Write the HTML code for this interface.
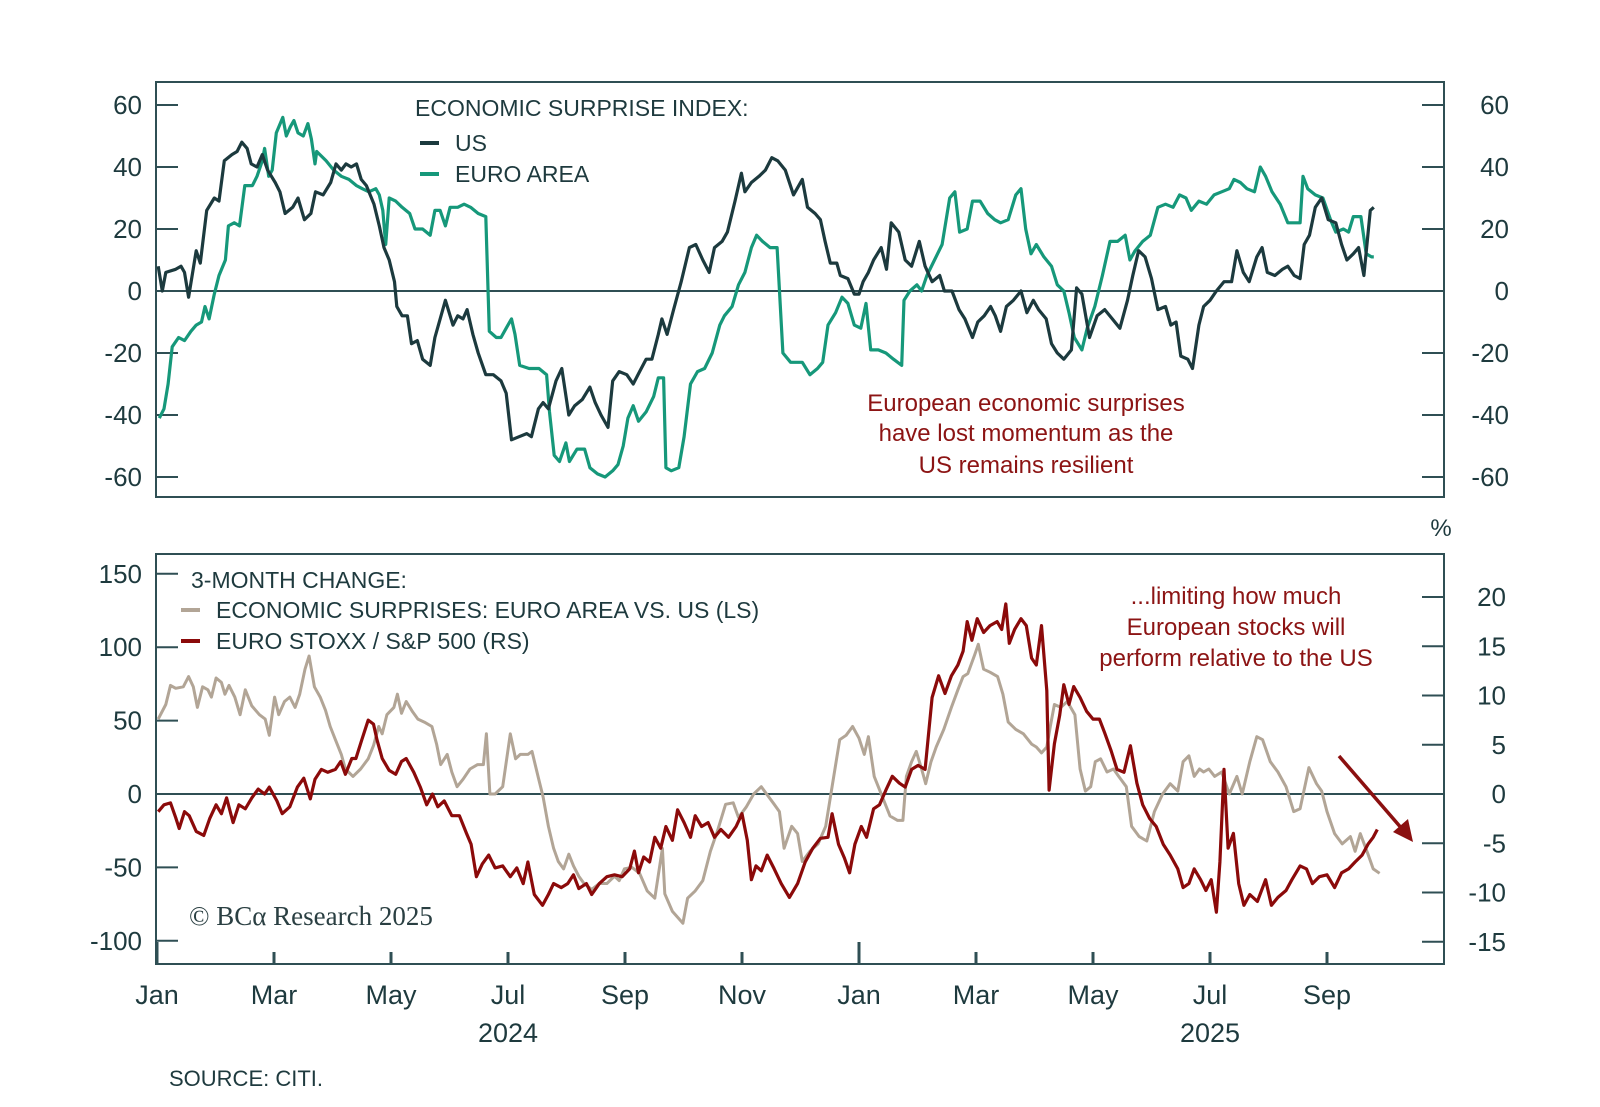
<!DOCTYPE html>
<html><head><meta charset="utf-8">
<style>
html,body{margin:0;padding:0;background:#fff;}
svg{display:block;font-family:"Liberation Sans",sans-serif;}
</style></head>
<body>
<svg id="chart" width="1600" height="1107" viewBox="0 0 1600 1107" xmlns="http://www.w3.org/2000/svg">
<rect width="1600" height="1107" fill="#fff"/>
<g id="topPanel"></g>
<g id="botPanel"></g>
<g fill="#1e3a3e" font-size="23">
<text x="415" y="116">ECONOMIC SURPRISE INDEX:</text>
<line x1="420" y1="143" x2="439" y2="143" stroke="#1c3a3e" stroke-width="4"/>
<text x="455" y="151">US</text>
<line x1="420" y1="174" x2="439" y2="174" stroke="#16987a" stroke-width="4"/>
<text x="455" y="182">EURO AREA</text>
</g>
<g fill="#8c1414" font-size="24" text-anchor="middle">
<text x="1026" y="411">European economic surprises</text>
<text x="1026" y="441">have lost momentum as the</text>
<text x="1026" y="473">US remains resilient</text>
</g>
<text x="1441" y="536" font-size="24" fill="#1e3a3e" text-anchor="middle">%</text>
<g fill="#1e3a3e" font-size="23">
<text x="191" y="588">3-MONTH CHANGE:</text>
<line x1="181" y1="610" x2="200" y2="610" stroke="#b2a596" stroke-width="4"/>
<text x="216" y="618">ECONOMIC SURPRISES: EURO AREA VS. US (LS)</text>
<line x1="181" y1="641" x2="200" y2="641" stroke="#8b0a0a" stroke-width="4"/>
<text x="216" y="649">EURO STOXX / S&amp;P 500 (RS)</text>
</g>
<g fill="#8c1414" font-size="24" text-anchor="middle">
<text x="1236" y="604">...limiting how much</text>
<text x="1236" y="635">European stocks will</text>
<text x="1236" y="666">perform relative to the US</text>
</g>
<g>
<line x1="1339" y1="756" x2="1403" y2="830" stroke="#8b1010" stroke-width="3.5"/>
<polygon points="1413,842 1393,832 1408,819" fill="#8b1010"/>
</g>
<text x="189" y="925" font-family="Liberation Serif,serif" font-size="27" fill="#2a3f42">© BCα Research 2025</text>
<text x="169" y="1086" font-size="22" fill="#1e3a3e">SOURCE: CITI.</text>
</svg>
<script>
const usM=[0.02,0.09,0.15,0.32,0.41,0.47,0.54,0.67,0.74,0.85,0.98,1.06,1.15,1.28,1.37,1.45,1.54,1.61,1.71,1.80,1.89,2.02,2.10,2.19,2.32,2.41,2.52,2.63,2.71,2.84,2.97,3.06,3.15,3.23,3.32,3.41,3.49,3.58,3.71,3.80,3.88,3.97,4.06,4.10,4.19,4.28,4.35,4.45,4.54,4.67,4.75,4.93,5.06,5.14,5.23,5.30,5.40,5.49,5.62,5.75,5.88,5.97,6.06,6.19,6.32,6.40,6.52,6.60,6.69,6.82,6.92,7.04,7.14,7.27,7.40,7.49,7.59,7.71,7.79,7.90,8.03,8.14,8.25,8.36,8.46,8.57,8.63,8.72,8.83,8.96,9.10,9.21,9.33,9.44,9.53,9.66,9.75,9.88,9.99,10.05,10.16,10.29,10.40,10.51,10.61,10.74,10.88,11.03,11.12,11.25,11.34,11.42,11.51,11.62,11.68,11.81,11.92,12.00,12.07,12.16,12.25,12.38,12.47,12.55,12.68,12.79,12.90,13.03,13.13,13.25,13.38,13.46,13.59,13.71,13.81,13.94,14.03,14.14,14.25,14.33,14.42,14.52,14.64,14.77,14.87,14.98,15.07,15.20,15.29,15.39,15.50,15.63,15.72,15.81,15.94,16.07,16.20,16.33,16.46,16.59,16.68,16.78,16.89,17.00,17.11,17.24,17.33,17.42,17.50,17.62,17.70,17.81,17.89,18.00,18.11,18.24,18.37,18.46,18.57,18.67,18.80,18.89,18.98,19.11,19.24,19.33,19.44,19.54,19.61,19.70,19.80,19.91,20.02,20.15,20.25,20.34,20.45,20.54,20.63,20.74,20.80];
const usV=[8,0,6,7,8,6,-2,13,9,26,30,29,42,44,45,48,46,41,40,44,39,35,32,25,27,30,23,25,32,31,35,41,39,41,40,41,36,34,28,21,14,10,3,-5,-8,-8,-17,-16,-22,-24,-15,-3,-11,-8,-9,-6,-14,-20,-27,-27,-29,-33,-48,-47,-46,-47,-38,-36,-38,-29,-25,-40,-37,-35,-31,-36,-40,-44,-29,-26,-27,-30,-26,-22,-22,-14,-9,-14,-6,3,14,15,10,6,14,16,19,29,38,32,35,37,39,43,42,39,31,36,27,25,23,16,9,9,5,4,-1,-1,3,6,10,14,7,22,19,10,8,16,8,3,5,0,0,-6,-9,-15,-10,-8,-5,-8,-13,-5,-3,0,-7,-3,-6,-9,-17,-20,-22,-19,1,-1,-15,-8,-6,-9,-12,-3,5,13,11,4,-6,-5,-11,-10,-21,-22,-25,-11,-5,-3,0,3,3,13,6,3,11,14,6,5,7,8,5,4,15,18,27,30,23,22,15,10,12,14,5,26,27];
const euM=[0.04,0.12,0.19,0.26,0.37,0.47,0.58,0.67,0.76,0.82,0.89,0.98,1.06,1.17,1.22,1.32,1.41,1.50,1.63,1.71,1.80,1.84,1.91,1.97,2.04,2.15,2.21,2.28,2.34,2.41,2.50,2.58,2.64,2.70,2.73,2.89,3.02,3.15,3.28,3.41,3.51,3.62,3.74,3.80,3.86,3.91,3.97,4.08,4.19,4.32,4.41,4.54,4.67,4.75,4.84,4.93,5.01,5.14,5.25,5.36,5.49,5.62,5.68,5.80,5.88,5.97,6.06,6.12,6.20,6.36,6.53,6.66,6.71,6.79,6.88,6.99,7.05,7.18,7.31,7.40,7.53,7.66,7.79,7.88,7.97,8.05,8.14,8.23,8.36,8.49,8.57,8.66,8.70,8.79,8.92,9.01,9.12,9.24,9.36,9.49,9.62,9.70,9.83,9.94,10.05,10.16,10.25,10.35,10.48,10.60,10.70,10.83,11.03,11.16,11.29,11.38,11.47,11.60,11.71,11.81,11.92,12.03,12.12,12.20,12.33,12.46,12.59,12.73,12.77,12.87,12.99,13.07,13.16,13.29,13.42,13.55,13.64,13.72,13.85,13.94,14.07,14.20,14.32,14.42,14.55,14.68,14.77,14.85,14.94,15.03,15.16,15.29,15.39,15.50,15.59,15.68,15.81,15.90,16.03,16.16,16.29,16.42,16.55,16.63,16.72,16.85,16.98,17.11,17.24,17.37,17.48,17.59,17.68,17.81,17.94,18.07,18.20,18.33,18.41,18.52,18.63,18.76,18.86,18.95,19.06,19.20,19.33,19.46,19.54,19.59,19.67,19.80,19.93,20.06,20.15,20.28,20.37,20.45,20.58,20.67,20.76,20.80];
const euV=[-41,-38,-30,-18,-15,-16,-13,-11,-10,-5,-9,-1,5,10,21,22,21,34,34,37,42,46,37,39,51,56,50,53,55,51,50,54,49,41,45,42,39,37,36,34,33,32,33,31,26,15,30,29,27,25,20,20,18,26,26,21,27,27,28,27,25,24,-13,-15,-15,-12,-9,-14,-24,-25,-25,-27,-39,-53,-55,-49,-55,-51,-51,-57,-59,-60,-58,-56,-50,-41,-37,-42,-39,-34,-28,-28,-57,-58,-57,-47,-30,-26,-25,-20,-11,-8,-5,2,6,14,18,16,14,14,-20,-23,-23,-27,-25,-23,-11,-7,-2,-4,-11,-12,-4,-19,-19,-20,-22,-24,-3,0,2,0,5,10,15,30,32,19,20,29,29,25,23,22,23,31,33,20,12,15,11,8,2,0,-7,-15,-19,-12,-5,5,16,16,18,10,13,16,18,27,28,27,31,30,26,29,28,31,32,33,36,35,33,32,40,37,32,28,22,22,22,37,33,31,30,23,19,20,19,24,24,12,11,11];
const esM=[0.02,0.15,0.23,0.32,0.45,0.54,0.62,0.69,0.78,0.87,0.93,1.01,1.10,1.16,1.23,1.33,1.42,1.51,1.62,1.75,1.85,1.92,2.01,2.08,2.18,2.27,2.36,2.44,2.53,2.60,2.69,2.79,2.88,2.96,3.05,3.15,3.22,3.35,3.48,3.61,3.70,3.79,3.85,3.93,4.05,4.11,4.18,4.26,4.37,4.46,4.57,4.70,4.78,4.85,4.96,5.04,5.13,5.23,5.35,5.48,5.58,5.63,5.69,5.78,5.91,6.04,6.13,6.21,6.34,6.41,6.52,6.60,6.69,6.78,6.86,6.95,7.04,7.12,7.21,7.30,7.43,7.56,7.69,7.82,7.90,7.99,8.12,8.25,8.38,8.51,8.64,8.68,8.81,8.99,9.07,9.20,9.33,9.46,9.59,9.72,9.85,9.94,10.07,10.20,10.33,10.42,10.55,10.64,10.72,10.85,10.95,11.03,11.16,11.30,11.43,11.52,11.67,11.78,11.89,12.00,12.09,12.16,12.26,12.40,12.53,12.66,12.75,12.81,12.90,12.98,13.07,13.14,13.23,13.32,13.45,13.58,13.69,13.78,13.86,13.98,14.04,14.13,14.24,14.37,14.46,14.55,14.68,14.81,14.95,15.03,15.12,15.21,15.27,15.34,15.45,15.56,15.69,15.78,15.87,15.96,16.04,16.13,16.24,16.35,16.44,16.57,16.66,16.79,16.92,17.05,17.19,17.32,17.45,17.54,17.64,17.73,17.82,17.89,17.98,18.08,18.20,18.33,18.46,18.55,18.68,18.80,18.90,19.03,19.16,19.30,19.43,19.54,19.69,19.82,19.91,20.00,20.13,20.26,20.40,20.48,20.57,20.70,20.79,20.90];
const esV=[51,61,74,72,73,80,73,59,73,71,66,79,76,68,74,66,54,71,60,54,51,40,66,54,63,66,59,68,85,94,73,66,57,46,37,27,17,12,17,24,33,46,41,54,59,68,55,63,56,51,49,46,34,20,27,15,5,10,17,20,20,41,0,0,5,41,24,27,27,29,11,-2,-22,-37,-46,-51,-41,-49,-56,-61,-65,-61,-61,-56,-59,-51,-50,-54,-66,-71,-37,-68,-80,-88,-71,-66,-59,-39,-24,-7,-6,-16,-9,0,5,0,-7,-12,-37,-22,-27,-46,-39,-34,-22,0,37,40,46,38,27,39,12,-2,-15,-18,-18,12,22,29,17,7,22,32,44,59,71,80,82,95,102,85,83,80,68,49,44,41,34,32,28,32,46,61,59,63,54,17,2,5,22,24,15,17,12,5,-22,-29,-32,-12,0,7,2,22,26,12,17,15,17,12,15,0,12,0,22,39,37,22,15,5,-12,-10,18,7,2,-12,-27,-34,-29,-39,-27,-41,-51,-54];
const rsM=[0.02,0.12,0.23,0.32,0.38,0.47,0.55,0.67,0.80,0.90,1.01,1.10,1.19,1.30,1.40,1.51,1.62,1.73,1.84,1.92,2.05,2.14,2.27,2.40,2.51,2.62,2.70,2.81,2.92,3.05,3.14,3.22,3.33,3.40,3.50,3.61,3.70,3.76,3.85,3.97,4.08,4.18,4.26,4.39,4.50,4.61,4.71,4.80,4.91,5.04,5.17,5.29,5.37,5.46,5.56,5.67,5.78,5.91,6.04,6.15,6.26,6.34,6.45,6.59,6.69,6.78,6.91,7.02,7.12,7.21,7.34,7.43,7.56,7.69,7.82,7.95,8.08,8.16,8.23,8.32,8.42,8.51,8.61,8.70,8.81,8.90,9.01,9.12,9.20,9.31,9.42,9.53,9.64,9.77,9.90,10.00,10.09,10.16,10.24,10.33,10.43,10.55,10.67,10.81,10.95,11.08,11.21,11.34,11.47,11.54,11.65,11.75,11.84,11.93,12.04,12.13,12.25,12.35,12.46,12.57,12.69,12.79,12.90,13.01,13.13,13.25,13.36,13.47,13.58,13.69,13.78,13.85,13.93,14.02,14.13,14.24,14.36,14.44,14.51,14.57,14.66,14.77,14.86,14.95,15.03,15.12,15.21,15.25,15.34,15.43,15.50,15.59,15.67,15.78,15.89,16.00,16.11,16.20,16.31,16.41,16.53,16.64,16.75,16.85,16.97,17.08,17.20,17.32,17.45,17.54,17.64,17.73,17.84,17.93,18.02,18.11,18.17,18.24,18.31,18.40,18.49,18.58,18.68,18.81,18.95,19.05,19.16,19.30,19.40,19.54,19.65,19.75,19.87,20.00,20.13,20.25,20.37,20.48,20.60,20.70,20.79,20.86];
const rsV=[-1.8,-1.1,-0.9,-2.4,-3.5,-1.8,-2.2,-3.8,-4.2,-2.5,-1.1,-2.0,-0.4,-2.9,-1.1,-1.5,-0.4,0.5,0,0.7,-0.7,-2.0,-1.3,0.7,1.6,-0.5,1.5,2.5,2.2,2.5,3.3,2.0,3.6,3.6,5.5,7.5,7.1,5.5,3.6,2.4,2.0,3.3,3.6,2.2,0.7,-1.1,0,-1.3,-0.7,-2.2,-2.2,-4.0,-5.1,-8.4,-7.1,-6.2,-7.5,-7.3,-8.4,-7.5,-9.1,-6.9,-10.2,-11.3,-10.2,-9.1,-9.5,-9.1,-8.2,-9.6,-9.1,-10.2,-9.1,-8.4,-8.2,-8.4,-7.6,-5.8,-8.0,-6.4,-6.9,-4.4,-5.5,-3.3,-4.7,-1.6,-2.9,-4.4,-2.2,-3.3,-2.9,-4.4,-3.6,-4.4,-3.3,-2.0,-4.7,-8.7,-7.3,-7.8,-6.2,-7.6,-9.1,-10.5,-9.1,-6.9,-5.5,-4.5,-4.4,-2.0,-5.1,-6.5,-8.0,-5.1,-3.3,-4.4,-1.5,-1.1,0.4,1.8,1.1,0.7,2.5,2.9,2.5,9.8,12.0,10.2,12.0,13.1,14.5,17.5,15.6,17.8,16.4,17.1,17.5,16.7,19.3,15.3,16.7,17.8,17.1,13.8,13.1,17.1,10.5,0.4,5.1,8.0,11.1,9.1,10.9,9.8,8.4,7.6,7.6,6.2,4.4,2.5,2.2,4.9,1.1,-1.1,-2.5,-3.3,-5.1,-6.2,-7.6,-9.5,-9.1,-7.6,-8.7,-9.8,-8.7,-12.0,-6.9,2.5,-5.5,-4.0,-9.1,-11.3,-10.2,-10.9,-8.7,-11.3,-10.5,-9.8,-8.7,-7.3,-7.6,-9.1,-8.4,-8.2,-9.5,-8.0,-7.6,-6.9,-6.2,-5.1,-4.4,-3.6];
const monthLabels=["Jan","Mar","May","Jul","Sep","Nov","Jan","Mar","May","Jul","Sep"];
const monthIdx=[0,2,4,6,8,10,12,14,16,18,20];
const yearLabels=["2024","2025"];
const yearIdx=[6,18];
const topTicks=[60,40,20,0,-20,-40,-60];
const botLTicks=[150,100,50,0,-50,-100];
const botRTicks=[20,15,10,5,0,-5,-10,-15];

const NS="http://www.w3.org/2000/svg";
const X0=157,PX=58.5,L=156,R=1444;
const xs=m=>X0+m*PX;
const yTop=v=>291-v*3.1;
const yBL=v=>794-v*1.468;
const yBR=v=>794-v*9.85;
const AX="#2f4f54",TXT="#1e3a3e";
function mk(tag,attrs,parent){const e=document.createElementNS(NS,tag);for(const k in attrs)e.setAttribute(k,attrs[k]);parent.appendChild(e);return e;}
function path(ms,vs,yf,color,w,parent,name){
  let d="";for(let i=0;i<ms.length;i++){d+=(i?"L":"M")+xs(ms[i]).toFixed(1)+","+yf(vs[i]).toFixed(1);}
  const p=mk("path",{d:d,fill:"none",stroke:color,"stroke-width":w,"stroke-linejoin":"round"},parent);
  
  
}
const topG=document.getElementById("topPanel"),botG=document.getElementById("botPanel");
const tf=mk("rect",{x:L,y:82,width:R-L,height:415,fill:"none",stroke:AX,"stroke-width":2},topG);


topTicks.forEach(v=>{
  const y=yTop(v);
  mk("line",{x1:L,x2:L+22,y1:y,y2:y,stroke:AX,"stroke-width":2},topG);
  mk("line",{x1:R-22,x2:R,y1:y,y2:y,stroke:AX,"stroke-width":2},topG);
  const t1=mk("text",{x:142,y:y+9,"text-anchor":"end","font-size":26,fill:TXT},topG);t1.textContent=v;
  
  
  const t2=mk("text",{x:1509,y:y+9,"text-anchor":"end","font-size":26,fill:TXT},topG);t2.textContent=v;
  
  
});
const z1=mk("line",{x1:L,x2:R,y1:yTop(0),y2:yTop(0),stroke:AX,"stroke-width":2},topG);


path(euM,euV,yTop,"#16987a",3.2,topG,"euro-area-line");
path(usM,usV,yTop,"#1c3a3e",3.2,topG,"us-line");
const bf=mk("rect",{x:L,y:554,width:R-L,height:410,fill:"none",stroke:AX,"stroke-width":2},botG);


botLTicks.forEach(v=>{
  const y=yBL(v);
  mk("line",{x1:L,x2:L+22,y1:y,y2:y,stroke:AX,"stroke-width":2},botG);
  const t=mk("text",{x:142,y:y+9,"text-anchor":"end","font-size":26,fill:TXT},botG);t.textContent=v;
  
  
});
botRTicks.forEach(v=>{
  const y=yBR(v);
  mk("line",{x1:R-22,x2:R,y1:y,y2:y,stroke:AX,"stroke-width":2},botG);
  const t=mk("text",{x:1506,y:y+9,"text-anchor":"end","font-size":26,fill:TXT},botG);t.textContent=v;
  
  
});
const z2=mk("line",{x1:L,x2:R,y1:yBL(0),y2:yBL(0),stroke:AX,"stroke-width":2},botG);


path(esM,esV,yBL,"#b2a596",3,botG,"economic-surprises-diff-line");
path(rsM,rsV,yBR,"#8b0a0a",3.2,botG,"euro-stoxx-sp500-line");
monthIdx.forEach((m,i)=>{
  const x=xs(m);const long=(m%12===0);
  mk("line",{x1:x,x2:x,y1:964,y2:long?942:952,stroke:AX,"stroke-width":3},botG);
  const t=mk("text",{x:x,y:1004,"text-anchor":"middle","font-size":27,fill:TXT},botG);t.textContent=monthLabels[i];
  
  
});
yearIdx.forEach((m,i)=>{
  const t=mk("text",{x:xs(m),y:1042,"text-anchor":"middle","font-size":27,fill:TXT},botG);t.textContent=yearLabels[i];
  
  
});
</script>
</body></html>
